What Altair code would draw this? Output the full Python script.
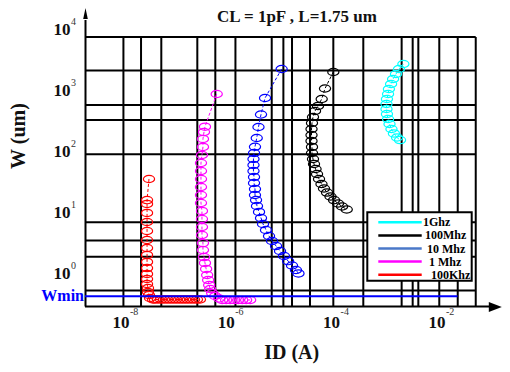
import altair as alt
import pandas as pd

# ---------------- data ----------------
series_names = ["1Ghz", "100Mhz", "10 Mhz", "1 Mhz", "100Khz"]
series_colors = ["#00ffff", "#000000", "#0000ff", "#ff00ff", "#ff0000"]
legend_colors = ["#00ffff", "#000000", "#4a78c8", "#ff00ff", "#ff0000"]

# 100Khz (red)
red_id = [3.06e-8, 2.81e-8, 2.81e-8, 2.81e-8, 2.81e-8, 2.81e-8, 2.81e-8, 2.81e-8,
          2.81e-8, 2.81e-8, 2.81e-8, 2.81e-8, 2.81e-8, 2.81e-8, 2.93e-8, 2.93e-8,
          3.06e-8, 3.2e-8, 3.65e-8, 3.98e-8, 4.54e-8, 5.18e-8, 5.9e-8, 6.73e-8,
          7.67e-8, 8.75e-8, 9.98e-8, 1.14e-7, 1.3e-7, 1.48e-7, 1.68e-7, 1.92e-7,
          2.19e-7, 2.49e-7, 2.84e-7]
red_w = [36.4, 16.4, 14.2, 10.1, 7.17, 5.11, 3.64, 2.69, 2.07, 1.59, 1.26, 1.01,
         0.834, 0.69, 0.594, 0.51, 0.456, 0.407, 0.385, 0.385, 0.385, 0.385, 0.385,
         0.385, 0.385, 0.385, 0.385, 0.385, 0.385, 0.385, 0.385, 0.385, 0.385,
         0.385, 0.385]

# 1 Mhz (magenta)
mag_id = [5.91e-7, 3.54e-7, 3.39e-7, 3.24e-7, 3.24e-7, 3.10e-7, 2.97e-7, 2.97e-7,
          2.97e-7, 2.97e-7, 2.97e-7, 2.97e-7, 3.10e-7, 3.10e-7, 3.10e-7, 3.10e-7,
          3.24e-7, 3.24e-7, 3.39e-7, 3.54e-7, 3.72e-7, 3.89e-7, 4.06e-7, 4.25e-7,
          4.44e-7, 4.84e-7, 5.52e-7, 6.57e-7, 7.5e-7, 8.93e-7, 1.06e-6, 1.27e-6,
          1.51e-6, 1.80e-6, 2.14e-6, 2.55e-6]
mag_w = [900, 262, 214, 165, 122, 90, 66.5, 49.2, 36.4, 26.9, 19.9, 14.7, 10.9,
         8.03, 5.94, 4.39, 3.24, 2.49, 1.91, 1.53, 1.22, 0.97, 0.803, 0.665, 0.572,
         0.492, 0.439, 0.40, 0.378, 0.378, 0.378, 0.378, 0.378, 0.378, 0.378, 0.378]

# 10 Mhz (blue)
blue_id = [1.01e-5, 4.89e-6, 4.10e-6, 3.67e-6, 3.40e-6, 3.15e-6, 3.02e-6, 2.95e-6,
           2.95e-6, 2.95e-6, 3.02e-6, 3.02e-6, 3.15e-6, 3.15e-6, 3.30e-6, 3.44e-6,
           3.76e-6, 4.10e-6, 4.48e-6, 5.10e-6, 5.82e-6, 6.64e-6, 7.91e-6, 9.42e-6,
           1.12e-5, 1.34e-5, 1.59e-5, 1.89e-5, 2.11e-5]
blue_w = [2312, 774, 415, 259, 171, 123, 97, 77.4, 61.7, 49.2, 39.2, 31.3, 24.9,
          19.9, 16.4, 13.1, 10.5, 8.34, 6.65, 5.31, 4.23, 3.50, 2.90, 2.40, 1.99,
          1.64, 1.39, 1.17, 1.03]

# 100Mhz (black)
black_id = [9.68e-5, 6.73e-5, 5.82e-5, 4.95e-5, 4.35e-5, 3.98e-5, 3.81e-5, 3.73e-5,
            3.73e-5, 3.73e-5, 3.81e-5, 3.81e-5, 3.98e-5, 4.16e-5, 4.45e-5, 4.75e-5,
            5.18e-5, 5.77e-5, 6.44e-5, 7.35e-5, 8.56e-5, 9.98e-5, 1.19e-4, 1.42e-4,
            1.74e-4]
black_w = [2065, 1107, 745, 572, 473, 378, 301, 240, 191, 153, 122, 97, 77.4, 64.1,
           53.0, 43.9, 36.4, 30.1, 25.4, 21.8, 18.8, 16.4, 14.4, 12.9, 11.5]

# 1Ghz (cyan)
cyan_id = [2.07e-3, 1.71e-3, 1.50e-3, 1.32e-3, 1.21e-3, 1.10e-3, 1.06e-3, 1.01e-3,
           9.9e-4, 9.9e-4, 1.01e-3, 1.06e-3, 1.13e-3, 1.23e-3, 1.37e-3, 1.57e-3,
           1.79e-3]
cyan_w = [2793, 2312, 1914, 1585, 1312, 1086, 900, 745, 617, 511, 423, 350, 290,
          240, 203, 174, 158]

# axis ranges
x_domain = [1.864e-9, 0.1545]
y_domain = [0.3011, 23120]

# Wmin level
wmin_w = [0.434]
wmin_end_id = [2.21e-2]

# grid line values
grid_x = [1.0e-8, 2.16e-8, 5.24e-8, 2.53e-7, 5.56e-7, 1.34e-6, 6.55e-6, 1.09e-5,
          1.59e-5, 3.49e-5, 9.68e-5, 3.59e-4, 1.92e-3, 3.11e-3, 3.98e-3, 9.95e-3,
          2.23e-2, 4.90e-2]
grid_y = [7740, 2183, 594, 337, 92.4, 7.09, 3.57, 1.94, 0.541]

# tick labels
x_ticks = [1e-8, 1e-6, 1e-4, 1e-2]
x_exps = ["-8", "-6", "-4", "-2"]
y_ticks = [1e4, 1e3, 1e2, 1e1, 1e0]
y_exps = ["4", "3", "2", "1", "0"]

# ---------------- build tables ----------------
rows = []
for name, ids, ws in [("100Khz", red_id, red_w), ("1 Mhz", mag_id, mag_w),
                      ("10 Mhz", blue_id, blue_w), ("100Mhz", black_id, black_w),
                      ("1Ghz", cyan_id, cyan_w)]:
    for i, (a, b) in enumerate(zip(ids, ws)):
        rows.append({"series": name, "id": a, "w": b, "i": i})
df = pd.DataFrame(rows)

xs = alt.Scale(type="log", domain=x_domain, nice=False)
ys = alt.Scale(type="log", domain=y_domain, nice=False)
cs = alt.Scale(domain=series_names, range=series_colors)

SERIF = "Liberation Serif"

gx = alt.Chart(pd.DataFrame({"gx": grid_x})).mark_rule(color="black", strokeWidth=2).encode(
    x=alt.X("gx:Q", scale=xs, axis=None), y=alt.value(29), y2=alt.value(298))
gy = alt.Chart(pd.DataFrame({"gy": grid_y})).mark_rule(color="black", strokeWidth=2).encode(
    y=alt.Y("gy:Q", scale=ys, axis=None), x=alt.value(0), x2=alt.value(390.7))

xaxis = alt.Chart().mark_rule(color="black", strokeWidth=2).encode(
    x=alt.value(0), x2=alt.value(406), y=alt.value(298.5))
yaxis = alt.Chart().mark_rule(color="black", strokeWidth=2).encode(
    x=alt.value(0.5), y=alt.value(298.5), y2=alt.value(12))
xarrow = alt.Chart().mark_point(shape="M1,0L-1,-0.77L-1,0.77Z", filled=True, color="black",
                                opacity=1, size=169).encode(x=alt.value(410.3), y=alt.value(299))
yarrow = alt.Chart().mark_point(shape="M0,-1L0.42,1L-0.42,1Z", filled=True, color="black",
                                opacity=1, size=121).encode(x=alt.value(0.5), y=alt.value(5.6))

lines = alt.Chart(df).mark_line(strokeWidth=1, strokeDash=[3, 2]).encode(
    x=alt.X("id:Q", scale=xs, axis=None),
    y=alt.Y("w:Q", scale=ys, axis=None),
    color=alt.Color("series:N", scale=cs, legend=None),
    order=alt.Order("i:Q"))
pts = alt.Chart(df).mark_point(
    shape="M-1,0A1,0.65 0 1,1 1,0A1,0.65 0 1,1 -1,0Z", filled=False, strokeWidth=1.2,
    size=125, opacity=1).encode(
    x=alt.X("id:Q", scale=xs, axis=None),
    y=alt.Y("w:Q", scale=ys, axis=None),
    color=alt.Color("series:N", scale=cs, legend=None))

wdf = pd.DataFrame({"w": wmin_w, "x1": [x_domain[0]], "x2": wmin_end_id})
wmin = alt.Chart(wdf).mark_rule(color="#0000ff", strokeWidth=2).encode(
    x=alt.X("x1:Q", scale=xs, axis=None), x2=alt.X2("x2:Q"),
    y=alt.Y("w:Q", scale=ys, axis=None))
wmin_txt = alt.Chart(wdf).mark_text(text="Wmin", align="right", baseline="middle",
                                    font=SERIF, fontWeight="bold", fontSize=16,
                                    color="#0000ff", dx=-1).encode(
    x=alt.X("x1:Q", scale=xs, axis=None), y=alt.Y("w:Q", scale=ys, axis=None))

xdf = pd.DataFrame({"v": x_ticks, "e": x_exps})
xl10 = alt.Chart(xdf).mark_text(text="10", font=SERIF, fontWeight="bold", fontSize=17,
                                baseline="middle", color="#111", dx=-2.5).encode(
    x=alt.X("v:Q", scale=xs, axis=None), y=alt.value(314.5))
xlex = alt.Chart(xdf).mark_text(font=SERIF, fontSize=10, align="left", dx=6.5,
                                baseline="middle", color="#333").encode(
    x=alt.X("v:Q", scale=xs, axis=None), y=alt.value(304), text="e:N")
ydf = pd.DataFrame({"v": y_ticks, "e": y_exps})
yl10 = alt.Chart(ydf).mark_text(text="10", font=SERIF, fontWeight="bold", fontSize=17,
                                baseline="middle", color="#111").encode(
    y=alt.Y("v:Q", scale=ys, axis=None), x=alt.value(-23))
ylex = alt.Chart(ydf).mark_text(font=SERIF, fontSize=10, align="left", dy=-8,
                                baseline="middle", color="#333").encode(
    y=alt.Y("v:Q", scale=ys, axis=None), x=alt.value(-14), text="e:N")

title = alt.Chart().mark_text(text="CL = 1pF , L=1.75 um", font=SERIF, fontWeight="bold",
                              fontSize=17, baseline="middle", color="#111").encode(
    x=alt.value(212), y=alt.value(8.5))
xtitle = alt.Chart().mark_text(text="ID (A)", font=SERIF, fontWeight="bold", fontSize=20,
                               baseline="middle", color="#111").encode(
    x=alt.value(206.7), y=alt.value(344.5))
ytitle = alt.Chart().mark_text(text="W (um)", font=SERIF, fontWeight="bold", fontSize=20,
                               baseline="middle", angle=270, color="#111").encode(
    x=alt.value(-66), y=alt.value(128))

ldf = pd.DataFrame({"label": series_names, "col": legend_colors, "row": list(range(5))})
lbox = alt.Chart().mark_rect(fill="white", stroke="black", strokeWidth=2).encode(
    x=alt.value(282.3), x2=alt.value(386.7), y=alt.value(204.3), y2=alt.value(272.7))
lbase = alt.Chart(ldf).transform_calculate(
    ly="214.3 + datum.row * 13.1", lx="338 + datum.row * 2")
llines = lbase.mark_rule(strokeWidth=2.5).encode(
    x=alt.value(293.3), x2=alt.value(336.7), y=alt.Y("ly:Q", scale=None, axis=None),
    color=alt.Color("col:N", scale=None, legend=None))
ltext = lbase.mark_text(align="left", baseline="middle", font=SERIF, fontWeight="bold",
                        fontSize=12, color="black").encode(
    x=alt.X("lx:Q", scale=None, axis=None), y=alt.Y("ly:Q", scale=None, axis=None),
    text="label:N")

chart = alt.layer(
    gx, gy, xaxis, yaxis, xarrow, yarrow, lines, pts, wmin, wmin_txt,
    xl10, xlex, yl10, ylex, title, xtitle, ytitle, lbox, llines, ltext
).properties(
    width=417, height=298,
    padding={"left": 77, "top": 0, "right": 0, "bottom": 58},
    autosize=alt.AutoSizeParams(type="none"),
    background="white",
).configure_view(stroke=None)

chart.save("out.html", embed_options={"renderer": "svg", "actions": False})
